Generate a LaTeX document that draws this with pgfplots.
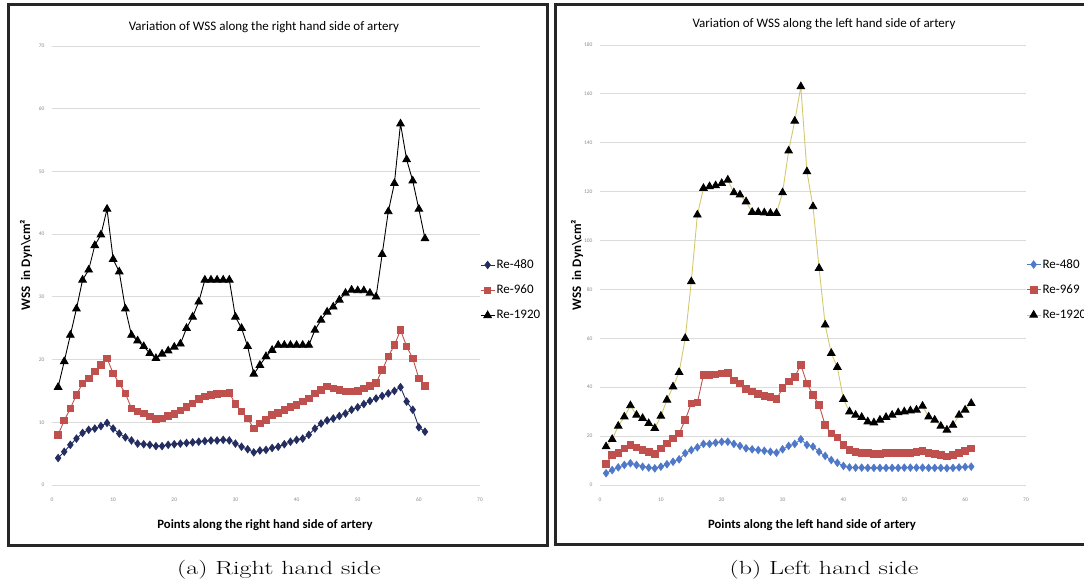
\documentclass[border=0pt]{standalone}
\usepackage{pgfplots}
\pgfplotsset{compat=1.18}
\usepackage{pgfplotstable}
\usepackage{fontspec}
\newfontfamily\calibri{Carlito}

\definecolor{navy}{RGB}{35,45,95}
\definecolor{exred}{RGB}{192,80,77}
\definecolor{exblue}{RGB}{80,120,200}
\definecolor{exyellow}{RGB}{212,200,110}

\pgfplotstableread{
x r480 r960 r1920
1 4.3 8.0 15.6
2 5.3 10.3 19.7
3 6.4 12.2 23.9
4 7.4 14.4 28.1
5 8.3 16.2 32.7
6 8.8 17.0 34.3
7 9.0 18.1 38.2
8 9.4 19.1 39.9
9 9.9 20.2 44.0
10 9.0 17.8 36.0
11 8.2 16.2 34.0
12 7.6 14.6 28.1
13 7.1 12.2 23.9
14 6.6 11.7 23.0
15 6.5 11.4 22.1
16 6.4 10.9 21.0
17 6.2 10.5 20.2
18 6.2 10.6 20.9
19 6.4 11.0 21.4
20 6.5 11.3 22.0
21 6.6 11.9 22.5
22 6.7 12.4 25.0
23 6.8 13.0 26.8
24 6.9 13.7 29.2
25 7.0 14.1 32.7
26 7.1 14.4 32.7
27 7.1 14.5 32.7
28 7.2 14.6 32.7
29 7.1 14.7 32.7
30 6.6 12.9 26.8
31 6.1 11.7 25.0
32 5.7 10.6 22.1
33 5.2 9.0 17.7
34 5.5 9.8 19.1
35 5.6 10.4 20.5
36 5.9 11.2 21.5
37 6.1 11.5 22.3
38 6.5 12.0 22.3
39 6.9 12.4 22.3
40 7.2 12.8 22.3
41 7.4 13.3 22.3
42 8.0 13.8 22.3
43 9.0 14.6 24.7
44 9.8 15.2 26.3
45 10.3 15.7 27.6
46 10.6 15.4 28.4
47 11.0 15.2 29.5
48 11.4 14.9 30.6
49 12.0 14.9 31.1
50 12.4 15.0 31.0
51 12.9 15.4 31.0
52 13.4 15.8 30.6
53 13.8 16.3 30.0
54 14.2 18.3 36.8
55 14.6 20.5 43.6
56 15.0 22.3 48.1
57 15.6 24.7 57.6
58 13.3 22.1 51.9
59 12.0 20.2 48.5
60 9.2 17.0 44.0
61 8.5 15.8 39.3
}\rightside

\pgfplotstableread{
x r480 r969 r1920
1 4.8 8.6 15.7
2 6.1 12.3 18.7
3 7.2 13.2 24.1
4 8.2 15.0 27.9
5 8.9 16.4 32.5
6 8.2 15.4 28.6
7 7.5 14.3 27.3
8 7.1 13.6 25.2
9 6.8 12.7 23.2
10 7.5 15.0 28.2
11 8.5 17.0 34.8
12 9.5 19.1 40.2
13 10.5 21.1 46.1
14 13.0 26.6 60.0
15 14.3 33.4 83.2
16 15.4 33.7 110.5
17 16.8 45.0 121.4
18 16.8 45.1 122.1
19 17.3 45.3 122.5
20 17.7 45.7 123.4
21 17.7 45.8 124.8
22 16.8 42.7 119.6
23 16.0 41.6 118.7
24 15.0 39.2 115.9
25 14.6 38.2 111.6
26 14.3 37.2 111.6
27 14.0 36.4 111.4
28 13.6 35.9 111.2
29 13.2 35.1 111.2
30 14.6 39.6 119.6
31 16.0 42.3 136.7
32 16.8 44.3 148.9
33 18.7 49.1 163.0
34 16.4 41.6 128.2
35 15.7 36.8 113.9
36 13.6 32.7 88.7
37 11.9 24.5 65.5
38 10.2 21.1 53.9
39 9.1 19.5 48.2
40 7.8 16.4 35.1
41 7.2 14.3 30.0
42 7.1 13.6 28.6
43 7.1 13.2 27.7
44 7.0 13.1 25.9
45 7.0 12.8 25.5
46 7.0 12.8 26.6
47 7.0 13.2 27.7
48 7.0 13.2 28.6
49 7.0 13.2 29.6
50 7.1 13.2 30.0
51 7.1 13.2 30.4
52 7.1 13.6 30.7
53 7.1 13.9 32.3
54 7.0 13.2 27.9
55 7.0 12.8 26.6
56 7.0 12.3 24.1
57 6.9 11.6 22.5
58 7.0 12.3 24.5
59 7.2 13.1 28.6
60 7.4 14.0 30.7
61 7.5 15.0 33.4
}\leftside

\pgfplotsset{
  wss/.style={
    scale only axis,
    anchor=south west,
    axis line style={draw=none},
    major tick style={draw=none},
    ymajorgrids,
    grid style={black!14, line width=0.8pt},
    xmin=0, xmax=70, xtick distance=10,
    ticklabel style={font=\calibri\fontsize{5.5}{6}\selectfont, text=black!45},
    /pgf/number format/assume math mode=true,
    xticklabel style={yshift=-9pt},
    yticklabel style={xshift=-4pt},
    legend style={draw=none, fill=none, font=\calibri\fontsize{13}{15}\selectfont,
      at={(axis description cs:1,0.444)}, anchor=west, inner sep=0pt,
      row sep=12pt, nodes={inner sep=1.5pt}},
    legend cell align=left,
    legend image code/.code={\draw[mark repeat=2,mark phase=2] plot coordinates {(0pt,0pt) (7pt,0pt) (14pt,0pt)};},
    clip=false,
  }
}

\begin{document}
\begin{tikzpicture}
\path[use as bounding box] (0pt,0pt) rectangle (1084pt,586pt);

% frames
\draw[line width=3pt, black!85] (8pt,581pt) rectangle (547.5pt,40pt);
\draw[line width=3pt, black!85] (555pt,581pt) rectangle (1095pt,41pt);

% left panel
\begin{axis}[wss, at={(52pt,101pt)}, width=428pt, height=439pt,
  ymin=0, ymax=70, ytick distance=10]
\addplot[navy, line width=0.9pt, mark=diamond*, mark size=3.6pt, mark options={fill=navy, draw=navy}] table[x=x, y=r480] {\rightside};
\addlegendentry{Re-480}
\addplot[exred, line width=0.9pt, mark=square*, mark size=3.3pt, mark options={fill=exred, draw=exred}] table[x=x, y=r960] {\rightside};
\addlegendentry{Re-960}
\addplot[black, line width=0.9pt, mark=triangle*, mark size=4.3pt, mark options={fill=black, draw=black}] table[x=x, y=r1920] {\rightside};
\addlegendentry{Re-1920}
\end{axis}

% right panel
\begin{axis}[wss, at={(600pt,101pt)}, width=426pt, height=440pt,
  ymin=0, ymax=180, ytick distance=20]
\addplot[exblue, line width=0.9pt, mark=diamond*, mark size=3.6pt, mark options={fill=exblue, draw=exblue}] table[x=x, y=r480] {\leftside};
\addlegendentry{Re-480}
\addplot[exred, line width=0.9pt, mark=square*, mark size=3.3pt, mark options={fill=exred, draw=exred}] table[x=x, y=r969] {\leftside};
\addlegendentry{Re-969}
\addplot[exyellow, line width=0.9pt, mark=triangle*, mark size=4.3pt, mark options={fill=black, draw=black}] table[x=x, y=r1920] {\leftside};
\addlegendentry{Re-1920}
\end{axis}

% titles and labels
\node[font=\calibri\fontsize{13}{15}\selectfont] at (264pt,559pt) {Variation of WSS along the right hand side of artery};
\node[font=\calibri\fontsize{13}{15}\selectfont] at (824pt,562pt) {Variation of WSS along the left hand side of artery};
\node[font=\calibri\bfseries\fontsize{12.7}{15}\selectfont] at (265pt,61pt) {Points along the right hand side of artery};
\node[font=\calibri\bfseries\fontsize{12.7}{15}\selectfont] at (812pt,61pt) {Points along the left hand side of artery};
\node[font=\calibri\bfseries\fontsize{13}{15}\selectfont, rotate=90] at (26pt,321pt) {WSS\ \ in Dyn\textbackslash cm²};
\node[font=\calibri\bfseries\fontsize{13}{15}\selectfont, rotate=90] at (577pt,321pt) {WSS\ \ in Dyn\textbackslash cm²};

% captions
\node at (279pt,16pt) {\scalebox{1.37}[1]{\fontsize{19}{22}\selectfont (a) Right hand side}};
\node at (824pt,16pt) {\scalebox{1.37}[1]{\fontsize{19}{22}\selectfont (b) Left hand side}};
\end{tikzpicture}
\end{document}
